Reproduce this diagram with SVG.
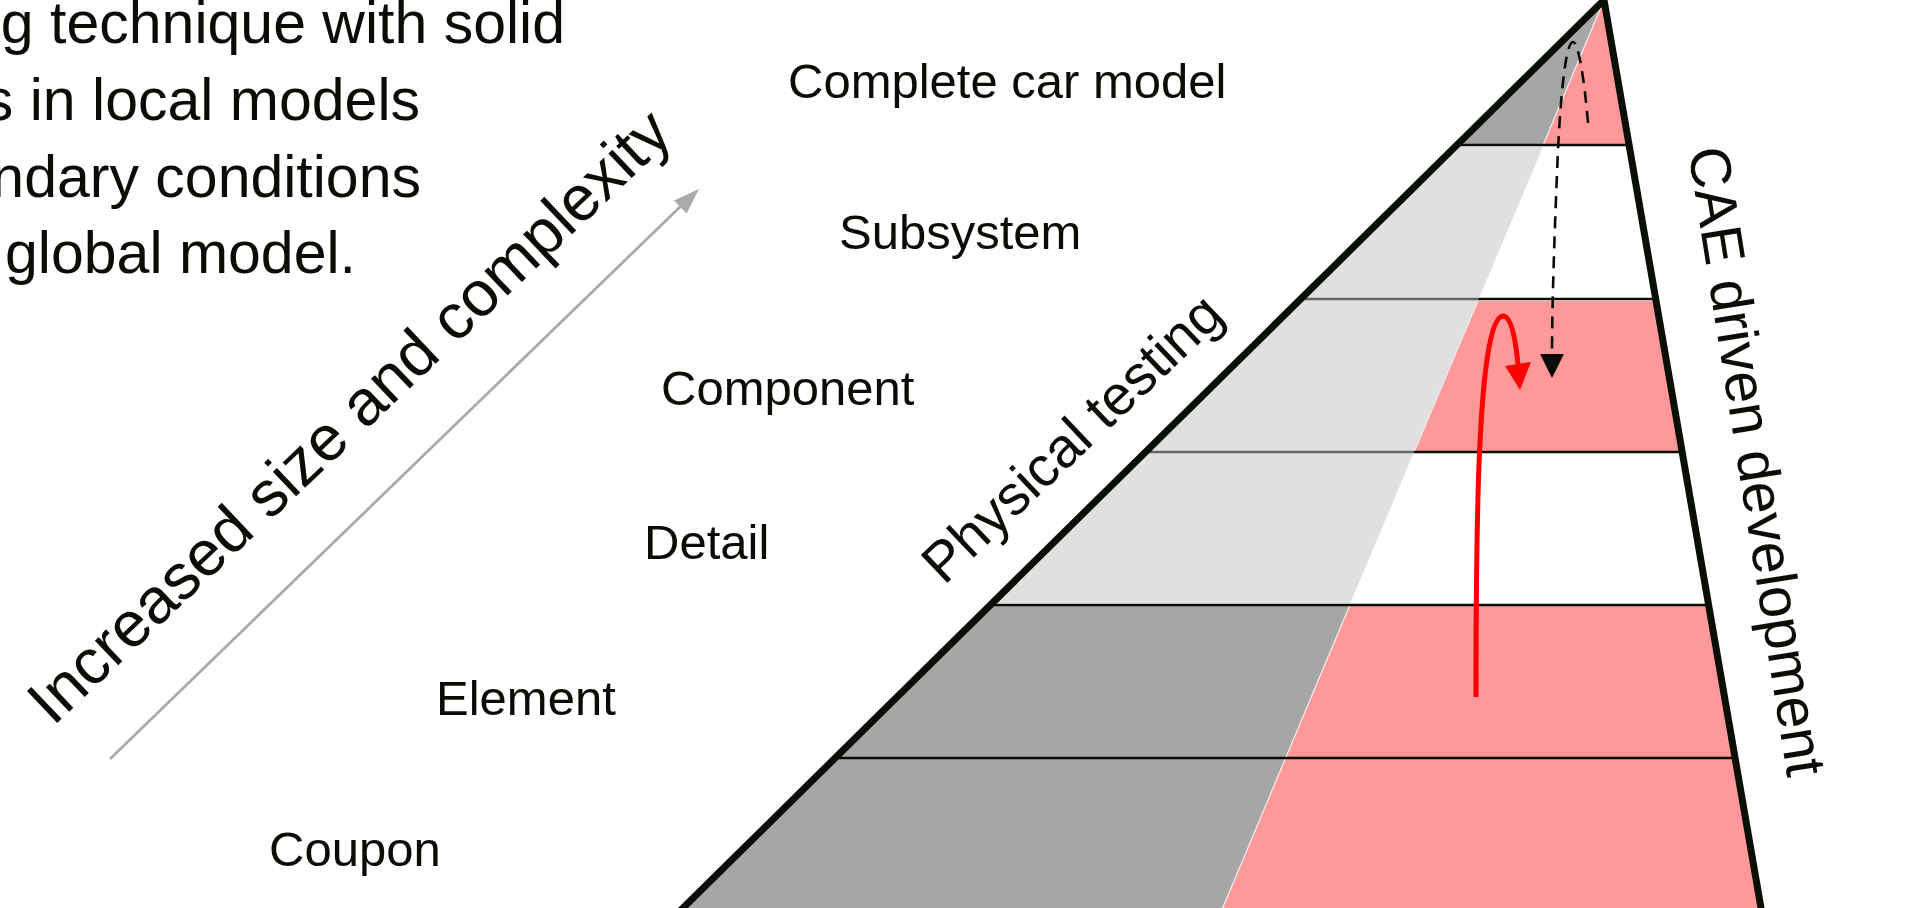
<svg xmlns="http://www.w3.org/2000/svg" width="1927" height="908" viewBox="0 0 1927 908">
  <style>
    text { font-family: "Liberation Sans", Arial, sans-serif; fill: #0a0c06; }
    .para { font-size: 59px; text-anchor: end; }
    .lvl { font-size: 49px; }
    .rot { font-size: 56px; }
    .band { stroke: #0a0c06; stroke-width: 2.5; fill: none; }
    .dkgray { fill: #a6a6a6; }
    .pink { fill: #ff9999; }
  </style>
  <rect width="1927" height="908" fill="#ffffff"/>

  <g id="paragraph">
    <text class="para" x="565" y="43">g technique with solid</text>
    <text class="para" x="420" y="120">s in local models</text>
    <text class="para" x="421" y="197">ndary conditions</text>
    <text class="para" x="356" y="273">global model.</text>
  </g>

  <g id="pyramid">
    <polygon class="dkgray" points="1604,0 1456.9,145 1543.1,145"/>
    <polygon class="pink" points="1604,0 1543.1,145 1629.1,145"/>
    <polygon class="pink" points="1478.4,301 1653,301 1679.5,452 1414.2,452"/>
    <polygon class="dkgray" points="990.3,605 1349.9,605 1217.6,920 670.8,920"/>
    <polygon class="pink" points="1349.9,605 1708.6,605 1763.1,920 1217.6,920"/>
    <line x1="1604" y1="0" x2="1217.6" y2="920" stroke="#ffffff" stroke-width="1.2" opacity="0.8"/>
    <line class="band" x1="1456.9" y1="145" x2="1629.1" y2="145"/>
    <line class="band" x1="1300.7" y1="299" x2="1655.7" y2="299"/>
    <line class="band" x1="1145.5" y1="452" x2="1682.2" y2="452"/>
    <line class="band" x1="990.3" y1="605" x2="1708.6" y2="605"/>
    <line class="band" x1="835.2" y1="758" x2="1735.1" y2="758"/>
    <polygon points="1456.9,146.5 1543.1,146.5 1349.9,604 990.3,604" fill="#c1c1c1" fill-opacity="0.5"/>
    <path d="M670.8,920 L1604,0 L1763.1,920" fill="none" stroke="#0a0f05" stroke-width="7" stroke-linejoin="miter"/>
  </g>

  <g id="level-labels">
    <text class="lvl" x="788" y="98">Complete car model</text>
    <text class="lvl" x="839" y="249">Subsystem</text>
    <text class="lvl" x="661" y="405">Component</text>
    <text class="lvl" x="644" y="559">Detail</text>
    <text class="lvl" x="436" y="715">Element</text>
    <text class="lvl" x="269" y="866">Coupon</text>
  </g>

  <g id="axis-labels">
    <text font-size="64" transform="translate(53,727) rotate(-43.5)">Increased size and complexity</text>
    <text class="rot" transform="translate(944,586) rotate(-43.5)">Physical testing</text>
    <text font-size="57.5" transform="translate(1688,150) rotate(81)">CAE driven development</text>
  </g>

  <g id="connectors">
    <line x1="110" y1="759" x2="682" y2="205" stroke="#aaaaaa" stroke-width="2.8"/>
    <polygon points="699,189 686.6,213.6 674.0,200.6" fill="#aaaaaa"/>
    <path d="M1588,123 C1584,75 1578,42 1573,42 C1566,42 1561,90 1558,150 C1555,220 1552,300 1552,356" fill="none" stroke="#0a0c06" stroke-width="2.6" stroke-dasharray="12 8"/>
    <polygon points="1540,354 1564,354 1552,378" fill="#0a0c06"/>
    <path d="M1476,697 C1476,560 1476,318 1503,316 C1512,316 1516,345 1518,364" fill="none" stroke="#ff0000" stroke-width="5"/>
    <polygon points="1505,366 1531,362 1520,390" fill="#ff0000"/>
  </g>
</svg>
